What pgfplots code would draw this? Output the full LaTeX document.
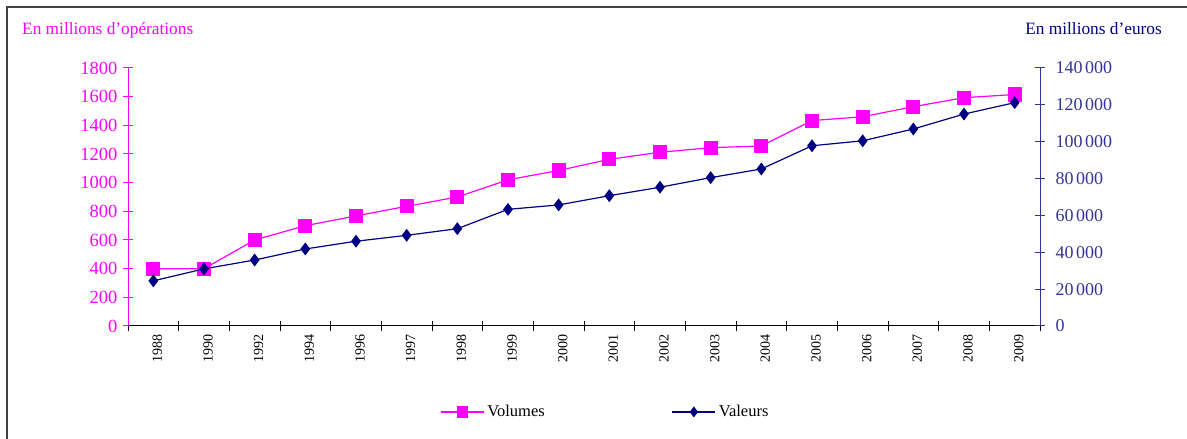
\documentclass[border=0pt]{standalone}
\usepackage{pgfplots}
\pgfplotsset{compat=1.18}
\usepackage{fontspec}
\setmainfont{Liberation Serif}
\definecolor{mag}{HTML}{FF00FF}
\definecolor{nav}{HTML}{000080}
\definecolor{raxis}{HTML}{333399}
\begin{document}
\begin{tikzpicture}
\useasboundingbox (0pt,0pt) rectangle (1187pt,439pt);
\draw[line width=1.3pt, black!75] (7pt,0pt) -- (7pt,432pt) -- (1187pt,432pt);
\node[anchor=base west, text=mag, font=\fontsize{17.3}{19}\selectfont, inner sep=0] at (22pt,404pt) {En millions d'opérations};
\node[anchor=base east, text=nav, font=\fontsize{17.3}{19}\selectfont, inner sep=0] at (1162pt,404pt) {En millions d'euros};
\begin{axis}[
  at={(128pt,113pt)}, anchor=south west,
  width=912pt, height=258pt, scale only axis,
  xmin=-0.5, xmax=17.5, ymin=0, ymax=1800,
  axis y line*=left, axis x line*=bottom,
  x axis line style={black, line width=1pt, -},
  y axis line style={mag, line width=1pt, -},
  tick align=center,
  major tick length=10pt, minor tick length=10pt,
  ytick={0,200,...,1800},
  yticklabels={0,200,400,600,800,1000,1200,1400,1600,1800},
  y tick style={mag, line width=1pt},
  yticklabel style={text=mag, font=\fontsize{18.5}{20}\selectfont, xshift=-2pt},
  xtick={0,...,17},
  xticklabels={1988,1990,1992,1994,1996,1997,1998,1999,2000,2001,2002,2003,2004,2005,2006,2007,2008,2009},
  major x tick style={draw=none},
  minor xtick={-0.5,0.5,...,17.5},
  minor x tick style={black, line width=1pt},
  xticklabel style={rotate=90, anchor=east, font=\fontsize{14}{16}\selectfont, yshift=-4pt},
  clip=false,
]
\addplot[mag, line width=1.2pt, mark=square*, mark size=6.5pt, mark options={solid, fill=mag}]
 coordinates {(0,400) (1,400) (2,600) (3,700) (4,768) (5,835) (6,900) (7,1020) (8,1085) (9,1163) (10,1212) (11,1244) (12,1256) (13,1433) (14,1460) (15,1530) (16,1593) (17,1615)};
\end{axis}
\begin{axis}[
  at={(128pt,113pt)}, anchor=south west,
  width=912pt, height=258pt, scale only axis,
  xmin=-0.5, xmax=17.5, ymin=0, ymax=140000,
  axis y line*=right, axis x line=none,
  y axis line style={raxis, line width=1pt, -},
  tick align=center, major tick length=10pt,
  scaled y ticks=false,
  ytick={0,20000,40000,60000,80000,100000,120000,140000},
  yticklabels={0,20\kern0.15em000,40\kern0.15em000,60\kern0.15em000,80\kern0.15em000,100\kern0.15em000,120\kern0.15em000,140\kern0.15em000},
  y tick style={raxis, line width=1pt},
  yticklabel style={text=raxis, font=\fontsize{18}{20}\selectfont, xshift=7pt},
  clip=false,
  legend style={at={(axis description cs:0.342,-0.333)}, anchor=west, draw=none, fill=none, inner sep=0pt,
    font=\fontsize{16.5}{18}\selectfont, legend columns=2,
    /tikz/every even column/.append style={column sep=124pt},
    nodes={inner sep=3pt}},
  legend image code/.code={\draw[#1, mark=none] (0pt,0pt) -- (43pt,0pt); \draw[#1] plot coordinates {(21.5pt,0pt)};},
]
\addlegendimage{mag, line width=1.2pt, mark=square*, mark size=5pt, mark options={solid, fill=mag}}
\addlegendentry{Volumes}
\addlegendimage{nav, line width=1.2pt, mark=diamond*, mark size=4.5pt, mark options={solid, fill=nav}}
\addlegendentry{Valeurs}
\addplot[nav, line width=1.2pt, mark=diamond*, mark size=5.5pt, mark options={solid, fill=nav}, forget plot]
 coordinates {(0,24500) (1,31000) (2,35800) (3,41800) (4,46000) (5,49200) (6,52800) (7,63300) (8,65700) (9,70700) (10,75300) (11,80500) (12,85200) (13,97800) (14,100500) (15,106900) (16,115000) (17,121200)};
\end{axis}
\end{tikzpicture}
\end{document}
